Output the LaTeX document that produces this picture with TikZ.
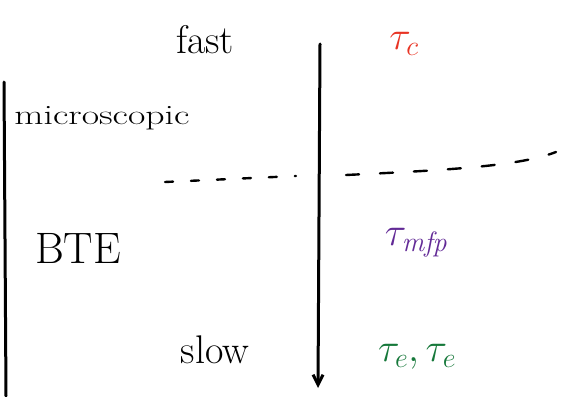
\RequirePackage{fix-cm}
\documentclass[tikz,border=0pt]{standalone}
\usepackage{fontspec}
\usepackage{graphicx}
\usetikzlibrary{arrows.meta}
\definecolor{hred}{RGB}{232,52,36}
\definecolor{hpurple}{RGB}{98,42,150}
\definecolor{hgreen}{RGB}{22,120,58}
\begin{document}
\begin{tikzpicture}[x=1pt,y=-1pt,
  pen/.style={line width=3pt,line cap=round},
  dashpen/.style={line width=2.4pt,line cap=round},
  lbl/.style={inner sep=0pt,anchor=center},
  big/.style={font=\fontsize{40}{44}\selectfont}]
\useasboundingbox (0,0) rectangle (567,396);
% left vertical line
\coordinate (ltop) at (4,82);
\coordinate (lbot) at (6,396);
\draw[pen] (ltop) -- (lbot);
% time arrow
\coordinate (atop) at (320,44);
\coordinate (abot) at (318,388);
\draw[pen,-{Straight Barb[length=10pt,width=10pt,line width=3pt]}] (atop) -- (abot);
% dashed separator
\coordinate (d1) at (165,182);
\coordinate (d2) at (296,176);
\draw[dashpen,dash pattern=on 8pt off 18pt] (d1) -- (d2);
\coordinate (d3) at (346,175);
\coordinate (d4) at (556,152);
\draw[dashpen,dash pattern=on 13pt off 21pt] (d3) .. controls (450,170) and (520,166) .. (d4);
% labels
\node[lbl,big] (fast) at (205,40) {fast};
\node[lbl,big,text=hred] (tc) at (404,44) {$\tau_c$};
\node[lbl,font=\fontsize{28}{32}\selectfont] (micro) at (102,118) {\scalebox{1.35}[1]{microscopic}};
\node[lbl,font=\fontsize{44}{48}\selectfont] (bte) at (78,248) {BTE};
\node[lbl,big,text=hpurple] (tmfp) at (416,243) {$\tau_{\mathit{mfp}}$};
\node[lbl,big] (slow) at (215,350) {slow};
\node[lbl,big,text=hgreen] (tee) at (417,357) {$\tau_e,\tau_e$};
\end{tikzpicture}
\end{document}
